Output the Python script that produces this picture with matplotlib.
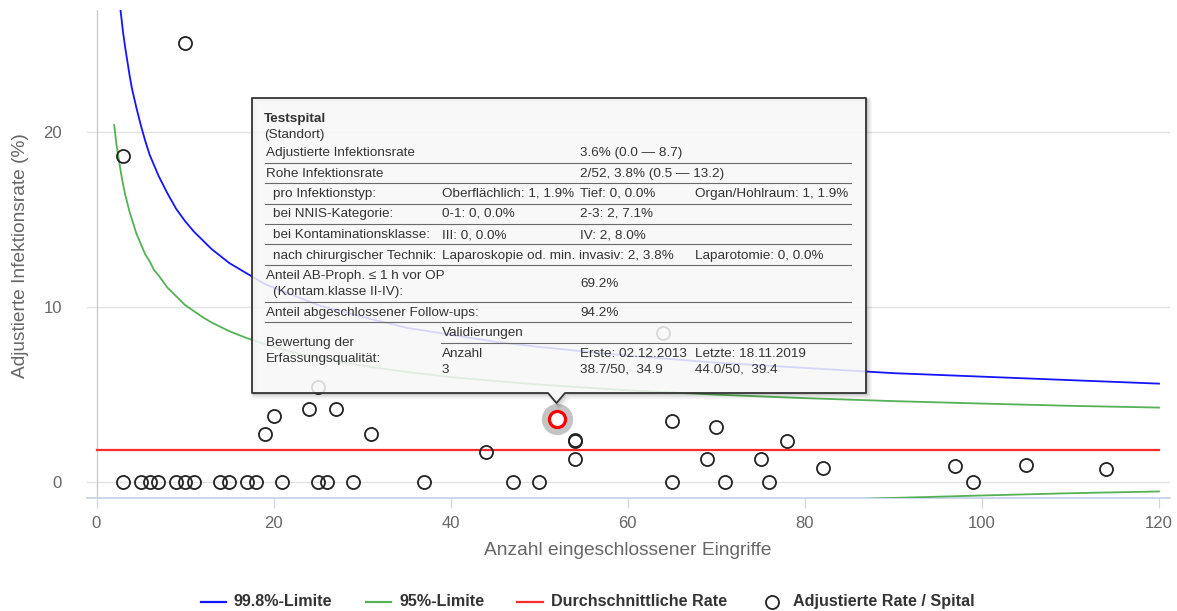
import matplotlib
matplotlib.use("Agg")
import matplotlib.pyplot as plt
from matplotlib.patches import Polygon

plt.rcParams['font.family'] = ['Liberation Sans', 'DejaVu Sans']

# ---------------- data ----------------
# funnel limits (x = number of operations, y = rate %)
limit_n = [2, 2.25, 2.5, 2.75, 3, 3.25, 3.5, 3.75, 4, 4.5, 5, 5.5, 6, 6.5, 7, 8, 9, 10, 11,
           12, 13, 14, 15, 17, 19, 21, 23, 25, 28, 31, 35, 40, 45, 50, 60, 70, 80, 90,
           100, 110, 120]
upper_998 = [31.1, 29.4, 28.0, 26.8, 25.7, 24.8, 24.0, 23.2, 22.5, 21.4, 20.4, 19.5, 18.7,
             18.1, 17.5, 16.5, 15.6, 14.9, 14.3, 13.8, 13.3, 12.9, 12.5, 11.9, 11.3, 10.9,
             10.5, 10.1, 9.7, 9.3, 8.8, 8.4, 8.0, 7.7, 7.2, 6.8, 6.5, 6.2, 6.0, 5.8, 5.6]
upper_95 = [20.4, 19.3, 18.5, 17.7, 17.0, 16.4, 15.9, 15.4, 15.0, 14.2, 13.6, 13.0, 12.6,
            12.1, 11.8, 11.1, 10.6, 10.1, 9.75, 9.4, 9.1, 8.85, 8.6, 8.2, 7.86, 7.56, 7.3,
            7.08, 6.8, 6.55, 6.27, 5.98, 5.75, 5.55, 5.22, 4.97, 4.77, 4.6, 4.46, 4.33, 4.23]
lower_n = [80, 85, 90, 95, 100, 110, 120]
lower_95 = [-1.11, -1.02, -0.94, -0.87, -0.8, -0.67, -0.57]
mean_rate = 1.83
mean_range = [0, 120]

hosp_n = [3, 5, 6, 7, 9, 10, 11, 14, 15, 17, 18, 21, 25, 26, 29, 37, 47, 50, 65, 71, 76, 99,
          3, 10, 19, 20, 24, 25, 27, 31, 44, 54, 54, 54, 64, 65, 69, 70, 75, 78, 82, 97, 105, 114]
hosp_rate = [0] * 22 + [18.6, 25.1, 2.7, 3.75, 4.15, 5.4, 4.15, 2.7, 1.7, 2.37, 2.3, 1.3,
                        8.5, 3.45, 1.3, 3.1, 1.3, 2.3, 0.8, 0.9, 0.97, 0.7]
sel_n, sel_rate = 52, 3.6

xticks = [0, 20, 40, 60, 80, 100, 120]
yticks = [0, 10, 20]

legend_labels = ['99.8%-Limite', '95%-Limite', 'Durchschnittliche Rate', 'Adjustierte Rate / Spital']

tooltip_title = 'Testspital'
tooltip_sub = '(Standort)'

BLUE = '#1414ff'
GREEN = '#55b155'
RED = '#ff2b2b'
W, H = 1177, 611

fig = plt.figure(figsize=(W / 100, H / 100), dpi=100)
L, R, T, B = 87, 1170, 10, 498
ax = fig.add_axes([L / W, (H - B) / H, (R - L) / W, (B - T) / H])
# pixel mapping: x px = 96.5 + 8.854*n ; y px = 481.5 - 17.475*v
ax.set_xlim((L - 96.5) / 8.854, (R - 96.5) / 8.854)
ax.set_ylim((481.5 - B) / 17.475, (481.5 - T) / 17.475)
for s in ax.spines.values():
    s.set_visible(False)

ax.set_yticks(yticks)
ax.set_xticks(xticks)
ax.tick_params(axis='y', length=0, pad=18, labelsize=12, labelcolor='#666666')
ax.tick_params(axis='x', length=7.2, width=0.9, color='#ccd6eb', pad=5.5,
               labelsize=12, labelcolor='#666666')
ax.yaxis.grid(True, color='#e3e3e3', lw=1.0)
ax.set_axisbelow(True)
ax.axhline(ax.get_ylim()[0], color='#ccd6eb', lw=1.4, clip_on=False, zorder=1)
ax.axvline(0, color='#cccccc', lw=1.0, zorder=1)

ax.plot(limit_n, upper_998, color=BLUE, lw=1.3, zorder=3)
ax.plot(limit_n, upper_95, color=GREEN, lw=1.3, zorder=3)
ax.plot(lower_n, lower_95, color=GREEN, lw=1.3, zorder=3)
ax.plot(mean_range, [mean_rate, mean_rate], color=RED, lw=1.6, zorder=3)

ax.plot(hosp_n, hosp_rate, ls='none', marker='o', ms=9.4, mfc='none', mec='#222222',
        mew=1.3, zorder=4)
# highlighted hospital
ax.plot([sel_n], [sel_rate], ls='none', marker='o', ms=22.5, mfc='#c4c4c4', mec='none',
        zorder=5)
ax.plot([sel_n], [sel_rate], ls='none', marker='o', ms=11.6, mfc='white', mec='#ff0000',
        mew=2.3, zorder=6)

ax.set_xlabel('Anzahl eingeschlossener Eingriffe', fontsize=13.8, color='#666666')
ax.set_ylabel('Adjustierte Infektionsrate (%)', fontsize=13.8, color='#666666')
ax.xaxis.set_label_coords((628 - L) / (R - L), -(542 - B) / (B - T))
ax.yaxis.set_label_coords(-(L - 29) / (R - L), (B - 256) / (B - T))

# ---------------- overlay (tooltip + legend) ----------------
ov = fig.add_axes([0, 0, 1, 1], zorder=10)
ov.set_xlim(0, W)
ov.set_ylim(H, 0)
ov.axis('off')
ov.patch.set_alpha(0)

bx0, bx1, by0, by1 = 252, 866, 98, 393
px, ptip = 556.5, 403
verts = [(bx0, by0), (bx1, by0), (bx1, by1), (px + 8.5, by1), (px, ptip), (px - 8.5, by1), (bx0, by1)]
for off, a, lw in [(3, 0.05, 4), (2, 0.08, 2.5), (1, 0.12, 1.2)]:
    ov.add_patch(Polygon([(x + off, y + off) for x, y in verts], closed=True, fill=False,
                         edgecolor='black', alpha=a, lw=lw, joinstyle='round'))
ov.add_patch(Polygon(verts, closed=True, facecolor='#f7f7f7', alpha=0.86, edgecolor='none'))
ov.add_patch(Polygon(verts, closed=True, fill=False, edgecolor='#333333', lw=1.3,
                     joinstyle='round'))

fs = 9.7
tc = '#333333'
def t(x, y, s, **kw):
    ov.text(x, y, s, fontsize=fs, color=tc, ha='left', va='center', **kw)

t(264, 119, tooltip_title, fontweight='bold')
t(264, 135, tooltip_sub)
rows = [
    (153, [(266, 'Adjustierte Infektionsrate'), (580, '3.6% (0.0 — 8.7)')]),
    (174, [(266, 'Rohe Infektionsrate'), (580, '2/52, 3.8% (0.5 — 13.2)')]),
    (194, [(273, 'pro Infektionstyp:'), (442, 'Oberflächlich: 1, 1.9%'), (580, 'Tief: 0, 0.0%'),
           (695, 'Organ/Hohlraum: 1, 1.9%')]),
    (214, [(273, 'bei NNIS-Kategorie:'), (442, '0-1: 0, 0.0%'), (580, '2-3: 2, 7.1%')]),
    (235, [(273, 'bei Kontaminationsklasse:'), (442, 'III: 0, 0.0%'), (580, 'IV: 2, 8.0%')]),
    (256, [(273, 'nach chirurgischer Technik:'), (442, 'Laparoskopie od. min. invasiv: 2, 3.8%'),
           (695, 'Laparotomie: 0, 0.0%')]),
    (276, [(266, 'Anteil AB-Proph. ≤ 1 h vor OP')]),
    (292, [(273, '(Kontam.klasse II-IV):')]),
    (284, [(580, '69.2%')]),
    (313, [(266, 'Anteil abgeschlossener Follow-ups:'), (580, '94.2%')]),
    (333, [(442, 'Validierungen')]),
    (343, [(266, 'Bewertung der')]),
    (359, [(266, 'Erfassungsqualität:')]),
    (354, [(442, 'Anzahl'), (580, 'Erste: 02.12.2013'), (695, 'Letzte: 18.11.2019')]),
    (370, [(442, '3'), (580, '38.7/50,  34.9'), (695, '44.0/50,  39.4')]),
]
for y, items in rows:
    for x, s in items:
        t(x, y, s)
for y in [162.7, 183.3, 203.7, 224, 244.3, 265, 301.7, 322.3]:
    ov.plot([265, 851], [y, y], color='#6a6a6a', lw=0.8)
ov.plot([441, 851], [342.7, 342.7], color='#6a6a6a', lw=0.8)

# legend
ly = 601.5
lc = [BLUE, GREEN, RED]
lx = [(201, 226, 234), (366, 391, 399), (517, 543, 551)]
for (x0, x1, xt), c, lab in zip(lx, lc, legend_labels[:3]):
    ov.plot([x0, x1], [ly, ly], color=c, lw=1.6)
    ov.text(xt, ly, lab, fontsize=11.6, fontweight='bold', color='#333333', ha='left', va='center')
ov.plot([772], [ly], ls='none', marker='o', ms=9.4, mfc='none', mec='#222222', mew=1.3)
ov.text(793, ly, legend_labels[3], fontsize=11.6, fontweight='bold', color='#333333',
        ha='left', va='center')

fig.savefig('out.png', dpi=100)
